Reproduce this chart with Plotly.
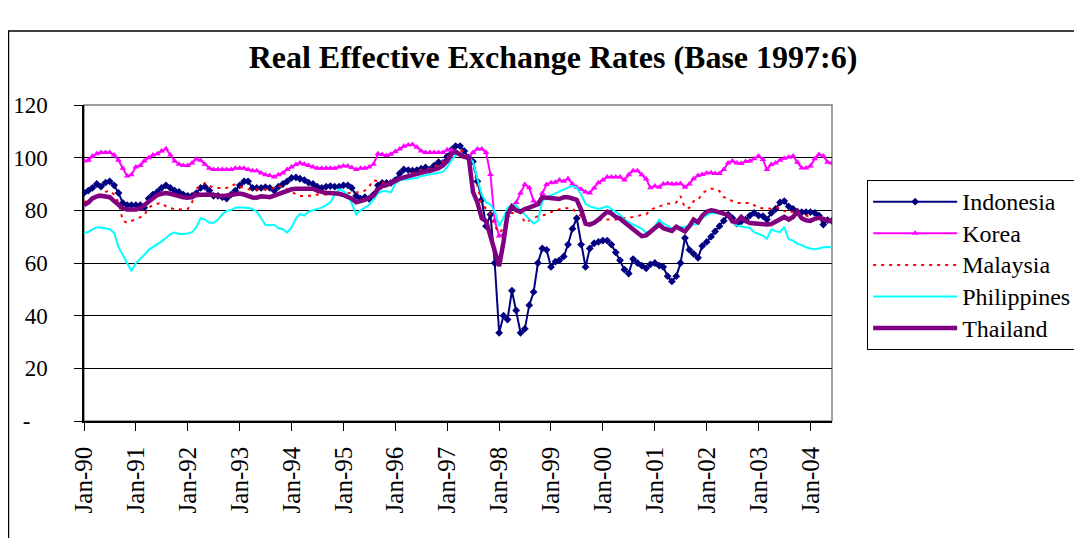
import pandas as pd
import plotly.graph_objects as go

# monthly REER index, Jan-1990 .. Jun-2004 (Jun-1997 = 100)
months = pd.date_range("1990-01-01", "2004-06-01", freq="MS")

indonesia = [
    86.6, 87.5, 88.5, 90.0, 89.0, 90.5, 91.0, 89.5, 86.6, 82.8, 82.0, 82.0,
    82.0, 82.0, 81.0, 84.5, 86.0, 87.0, 88.5, 89.5, 88.5, 87.5, 87.0, 86.0,
    85.5, 85.5, 86.5, 88.5, 89.0, 87.5, 85.5, 85.5, 85.0, 84.5, 86.0, 87.5,
    89.5, 91.0, 91.0, 88.5, 88.5, 88.5, 88.8, 88.5, 87.5, 89.0, 90.0, 91.0,
    92.3, 92.5, 92.0, 91.5, 90.5, 90.0, 89.0, 88.5, 89.0, 89.2, 89.0, 89.0,
    89.5, 89.5, 88.5, 85.5, 84.4, 85.0, 84.4, 86.0, 89.5, 90.4, 90.4, 90.4,
    91.5, 94.0, 95.5, 95.3, 95.1, 95.3, 95.8, 96.3, 95.5, 97.0, 98.3, 98.0,
    100.5, 103.0, 104.4, 104.4, 102.5, 100.0, 98.5, 91.0, 84.0, 74.0, 78.4, 60.0,
    33.5, 40.0, 38.5, 49.5, 42.0, 33.5, 35.0, 44.0, 49.0, 60.0, 65.5, 65.0,
    58.5, 60.5, 61.0, 62.5, 67.0, 73.0, 77.0, 67.0, 58.5, 65.5, 67.5, 68.0,
    68.5, 68.5, 67.0, 64.0, 61.0, 57.5, 56.0, 61.5, 60.0, 59.0, 58.0, 59.5,
    60.0, 59.0, 58.5, 55.0, 53.0, 55.0, 60.0, 69.5, 65.0, 63.5, 62.0, 66.5,
    68.0, 70.0, 72.0, 74.0, 76.0, 78.4, 77.0, 75.0, 75.8, 76.5, 78.0, 79.0,
    78.0, 77.8, 76.5, 79.0, 80.5, 83.0, 83.5, 81.5, 80.5, 79.5, 79.3, 79.3,
    79.3, 79.0, 78.0, 74.6, 76.3, 76.0,
]

korea = [
    98.7, 99.0, 100.5, 101.5, 102.0, 102.0, 102.0, 101.0, 99.0, 96.0, 93.0, 93.5,
    96.5, 97.0, 98.7, 100.0, 101.0, 101.5, 102.5, 103.4, 101.0, 98.7, 97.5, 97.0,
    97.0, 98.0, 99.5, 99.0, 97.5, 96.0, 95.5, 95.5, 95.5, 95.5, 95.5, 96.0,
    96.0, 96.0, 95.5, 95.0, 95.0, 94.2, 93.5, 93.2, 92.7, 93.5, 94.2, 95.5,
    96.5, 97.4, 98.0, 97.5, 97.0, 96.5, 96.0, 96.0, 96.0, 96.0, 96.0, 96.5,
    96.8, 96.8, 96.3, 95.5, 96.0, 96.0, 96.5, 97.5, 101.5, 101.2, 100.8, 101.3,
    102.3, 103.3, 104.3, 104.8, 105.0, 104.0, 102.5, 102.0, 102.0, 102.0, 102.0, 102.0,
    103.0, 102.8, 102.0, 101.2, 100.3, 100.0, 102.0, 103.3, 103.3, 102.0, 93.6, 76.0,
    70.3, 70.8, 78.0, 81.0, 83.0, 86.6, 89.8, 88.6, 83.5, 82.2, 86.5, 89.8,
    90.5, 90.7, 91.5, 91.0, 92.0, 90.0, 88.8, 88.0, 87.0, 86.6, 88.5, 90.5,
    91.5, 92.7, 92.7, 92.7, 92.7, 91.5, 93.5, 95.0, 95.0, 93.5, 91.9, 88.6,
    89.2, 88.8, 90.0, 90.2, 90.0, 90.0, 90.2, 88.8, 90.0, 92.0, 93.2, 93.6,
    94.2, 94.3, 94.0, 94.0, 95.5, 98.0, 98.7, 98.0, 97.8, 98.5, 98.7, 99.6,
    100.6, 99.3, 95.5, 97.4, 98.0, 99.0, 99.8, 100.2, 100.6, 98.3, 96.1, 96.1,
    96.8, 99.6, 101.2, 100.6, 98.3, 98.0,
]

malaysia = [
    83.0, 84.0, 85.0, 86.0, 86.0, 87.0, 87.5, 86.0, 83.0, 76.0, 75.3, 76.0,
    76.5, 77.5, 78.0, 81.0, 82.0, 82.5, 82.8, 81.5, 80.8, 80.5, 80.3, 80.3,
    80.5, 83.0, 88.5, 88.8, 90.4, 89.5, 88.5, 88.5, 88.5, 88.5, 89.5, 89.8,
    89.0, 88.5, 88.0, 87.8, 87.9, 88.0, 87.9, 88.0, 88.5, 89.5, 88.5, 88.0,
    87.0, 86.0, 85.4, 85.5, 85.5, 85.5, 86.0, 86.0, 86.0, 86.0, 86.5, 86.5,
    86.5, 86.5, 86.8, 86.9, 86.9, 87.5, 89.0, 91.5, 91.0, 90.5, 90.5, 91.0,
    91.5, 92.0, 92.5, 93.0, 94.0, 95.0, 95.5, 95.5, 96.0, 96.5, 97.5, 98.5,
    100.5, 101.5, 103.0, 102.8, 102.5, 100.0, 98.0, 89.5, 82.5, 80.6, 78.4, 74.0,
    71.5, 73.0, 79.0, 79.0, 79.0, 79.0, 75.3, 76.0, 77.0, 77.8, 78.0, 78.4,
    79.3, 79.8, 80.3, 81.0, 80.8, 80.6, 79.3, 77.8, 75.5, 75.4, 75.3, 75.9,
    76.8, 76.5, 76.5, 76.5, 76.8, 77.0, 77.1, 77.5, 77.8, 78.3, 78.5, 80.0,
    81.0, 81.5, 82.2, 82.5, 82.7, 83.0, 85.4, 81.0, 80.9, 83.5, 83.8, 86.5,
    87.5, 88.2, 88.2, 87.3, 85.0, 84.5, 83.5, 82.8, 82.8, 82.8, 82.8, 82.0,
    81.0, 80.8, 80.6, 80.6, 81.0, 81.0, 79.8, 79.0, 79.5, 78.5, 78.0, 78.0,
    77.5, 77.0, 77.0, 77.0, 76.5, 76.5,
]

philippines = [
    71.5, 71.8, 72.8, 73.5, 73.5, 73.0, 72.8, 71.5, 66.0, 63.0, 60.0, 57.0,
    60.0, 61.5, 63.0, 65.0, 66.0, 67.0, 68.2, 69.5, 71.0, 71.6, 71.0, 71.0,
    71.2, 71.7, 73.5, 77.0, 76.5, 75.3, 75.3, 76.5, 78.5, 79.8, 80.1, 81.0,
    81.2, 81.0, 81.0, 80.5, 79.5, 77.0, 74.5, 74.3, 74.5, 73.2, 72.8, 71.5,
    73.5, 77.0, 78.6, 78.0, 79.5, 80.0, 80.5, 81.0, 82.0, 83.0, 86.0, 88.0,
    87.3, 86.0, 82.5, 78.4, 80.0, 81.0, 82.0, 84.1, 86.5, 87.2, 87.2, 86.8,
    90.0, 91.4, 91.6, 91.7, 92.0, 92.3, 93.0, 93.4, 93.6, 94.0, 94.3, 94.6,
    96.5, 99.0, 101.0, 101.2, 100.8, 100.0, 98.5, 92.0, 86.0, 83.0, 82.2, 79.7,
    74.0, 77.1, 80.8, 82.2, 81.8, 80.0, 78.4, 76.5, 75.0, 76.0, 83.5, 84.8,
    85.6, 86.5, 87.3, 88.0, 88.7, 89.2, 88.6, 86.0, 82.5, 81.5, 81.0, 80.5,
    81.0, 81.5, 80.5, 79.5, 78.4, 76.5, 75.5, 74.6, 73.8, 73.0, 71.5, 72.0,
    74.0, 76.5, 75.0, 74.2, 73.0, 73.2, 73.4, 73.8, 74.2, 74.5, 75.0, 77.0,
    78.2, 79.0, 79.0, 79.0, 78.8, 78.4, 76.0, 74.2, 73.8, 73.6, 73.4, 71.7,
    71.0, 70.4, 69.2, 72.7, 72.1, 71.7, 73.7, 69.0, 68.5, 67.3, 66.8, 66.0,
    65.5, 65.2, 65.5, 66.0, 66.1, 66.0,
]

thailand = [
    82.0, 83.0, 84.5, 85.3, 85.5, 85.3, 85.0, 83.5, 82.0, 80.8, 80.3, 80.1,
    80.3, 80.8, 82.0, 83.5, 85.0, 85.8, 86.3, 86.6, 86.3, 85.8, 85.5, 85.0,
    84.8, 85.0, 85.8, 86.0, 86.0, 86.0, 85.8, 85.5, 85.4, 85.6, 86.0, 86.4,
    86.4, 86.0, 85.3, 84.9, 84.8, 85.3, 85.2, 85.0, 85.6, 86.2, 86.8, 87.7,
    88.0, 88.2, 88.0, 88.2, 88.2, 88.2, 87.5, 87.0, 86.6, 86.6, 86.5, 86.3,
    85.8, 85.0, 84.4, 83.1, 83.4, 84.0, 84.8, 85.6, 88.0, 89.2, 89.6, 90.5,
    91.3, 92.0, 92.5, 93.0, 93.3, 93.6, 94.2, 94.7, 95.0, 95.3, 96.0, 97.0,
    98.7, 101.5, 102.3, 101.2, 100.3, 100.0, 87.0, 83.0, 77.0, 75.9, 70.2, 65.0,
    58.8, 68.0, 78.5, 81.5, 80.0, 79.5, 80.5, 81.0, 81.5, 82.3, 85.0, 84.8,
    84.3, 84.5, 84.3, 85.0, 85.0, 84.5, 84.0, 80.3, 75.0, 74.6, 75.3, 76.5,
    78.0, 79.5, 78.8, 77.5, 76.8, 75.5, 74.4, 73.0, 71.5, 70.2, 70.5, 72.0,
    73.0, 74.6, 73.2, 72.5, 72.2, 73.8, 73.0, 72.0, 74.0, 76.5, 75.5, 78.0,
    79.5, 80.0, 79.8, 79.2, 78.4, 78.2, 75.8, 75.6, 77.5, 76.0, 75.2, 75.0,
    74.8, 74.6, 74.6, 74.8, 75.6, 76.8, 77.5, 76.5, 77.5, 79.5, 77.0, 76.2,
    76.0, 76.8, 77.2, 76.8, 76.0, 75.8,
]

y_ticks = [0, 20, 40, 60, 80, 100, 120]
y_labels = ["-" + "\u00a0" * 3, "20", "40", "60", "80", "100", "120"]

serif = "Liberation Serif, Times New Roman, serif"


def legend_name(txt):
    # bigger text than the legend font so the rows stay tight
    return "<span style='font-size:24px'>" + txt + "</span>"


fig = go.Figure()
fig.add_trace(go.Scatter(x=months, y=indonesia, name=legend_name("Indonesia"), mode="lines+markers",
                         line=dict(color="#000080", width=2),
                         marker=dict(symbol="diamond", size=6, color="#000080")))
fig.add_trace(go.Scatter(x=months, y=korea, name=legend_name("Korea"), mode="lines+markers",
                         line=dict(color="#FF00FF", width=2),
                         marker=dict(symbol="triangle-up", size=6, color="#FF00FF")))
fig.add_trace(go.Scatter(x=months, y=malaysia, name=legend_name("Malaysia"), mode="lines",
                         line=dict(color="#FF0000", width=2, dash="3px,5px")))
fig.add_trace(go.Scatter(x=months, y=philippines, name=legend_name("Philippines"), mode="lines",
                         line=dict(color="#00FFFF", width=2)))
fig.add_trace(go.Scatter(x=months, y=thailand, name=legend_name("Thailand"), mode="lines",
                         line=dict(color="#800080", width=4.5)))

# page body has an 8px margin, so the figure starts at (8, 8) in the window
fig.update_layout(
    width=1074, height=530,
    margin=dict(l=76, r=250, t=97, b=116.5, autoexpand=False),
    paper_bgcolor="white", plot_bgcolor="white",
    font=dict(family=serif, color="black"),
    title=dict(text="<b>Real Effective Exchange Rates (Base 1997:6)</b>",
               x=545 / 1074, xref="container", y=1 - 49 / 530, yref="container",
               xanchor="center", yanchor="middle",
               font=dict(family=serif, size=32, color="black")),
    legend=dict(x=1.047, y=0.763, xanchor="left", yanchor="top",
                bordercolor="black", borderwidth=1, bgcolor="white",
                font=dict(family=serif, size=22), itemwidth=84,
                tracegroupgap=0),
    showlegend=True,
)

fig.update_xaxes(
    type="date", range=["1990-01-01", "2004-06-01"],
    tick0="1990-01-01", dtick="M12", tickformat="%b-%y", tickangle=-90,
    ticks="outside", ticklen=8, tickcolor="black", ticklabelstandoff=6,
    showline=True, linecolor="black", linewidth=1.5,
    showgrid=False, tickfont=dict(family=serif, size=25),
)
fig.update_yaxes(
    range=[0, 120], tickvals=y_ticks, ticktext=y_labels,
    ticks="outside", ticklen=8, tickcolor="black", ticklabelstandoff=22,
    showline=True, linecolor="black", linewidth=1.5,
    showgrid=True, gridcolor="black", gridwidth=1,
    tickfont=dict(family=serif, size=23),
)

# plot-area frame (grey top/right) and outer chart frame
fig.add_shape(type="rect", xref="paper", yref="paper", x0=0, x1=1, y0=0, y1=1,
              line=dict(color="#808080", width=1.5), layer="below")
fig.add_shape(type="rect", xref="paper", yref="paper", x0=-0.101, x1=1.5, y0=-1, y1=1.234,
              line=dict(color="black", width=1.5), layer="below")

fig.write_html("out.html")
